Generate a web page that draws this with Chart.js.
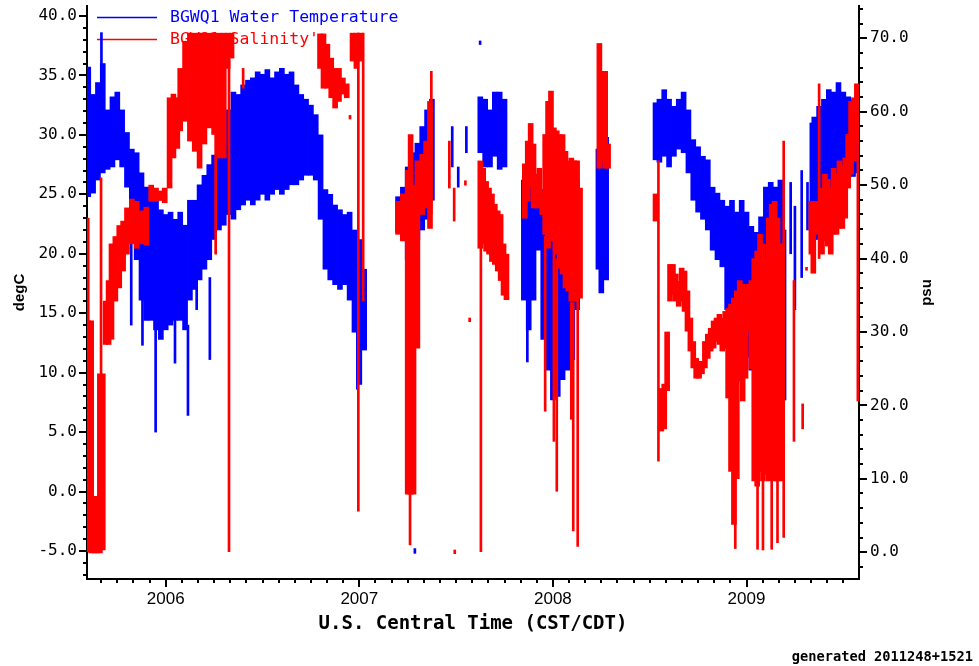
<!DOCTYPE html>
<html>
<head>
<meta charset="utf-8">
<script src="https://cdn.jsdelivr.net/npm/chart.js@4.4.1/dist/chart.umd.min.js"></script>
<style>
  body { margin: 0; background: #fff; }
  canvas { display: block; }
</style>
</head>
<body>
<canvas id="miCanva" width="979" height="666"></canvas>
<script>
// tick labels
const yearTicks = [2006, 2007, 2008, 2009];
const tempTicks = [-5, 0, 5, 10, 15, 20, 25, 30, 35, 40];
const salTicks = [0, 10, 20, 30, 40, 50, 60, 70];

// water temperature, degC: [decimal year, low, high] of the dense band
const tempBand = [
  [2005.600, 24.8, 35.7], [2005.625, 25.1, 33.4], [2005.650, 26.2, 34.4], [2005.675, 26.8, 36.0],
  [2005.700, 27.1, 32.1], [2005.725, 27.3, 33.2], [2005.750, 27.9, 33.6], [2005.775, 27.3, 32.1],
  [2005.800, 25.6, 30.2], [2005.825, 24.0, 28.8], [2005.850, 19.5, 28.5], [2005.875, 16.1, 26.8],
  [2005.900, 14.4, 25.6], [2005.925, 14.4, 24.8], [2005.950, 13.6, 24.5], [2005.975, 12.8, 23.7],
  [2006.000, 13.6, 23.3], [2006.025, 14.0, 23.5], [2006.050, 14.4, 22.9], [2006.075, 14.4, 23.5],
  [2006.100, 13.6, 22.4], [2006.125, 16.1, 24.5], [2006.150, 17.0, 24.5], [2006.175, 17.8, 25.8],
  [2006.200, 18.7, 26.6], [2006.225, 19.5, 27.5], [2006.250, 21.2, 28.3], [2006.275, 22.0, 29.6],
  [2006.300, 22.4, 31.3], [2006.325, 23.3, 32.1], [2006.350, 22.9, 33.6], [2006.375, 23.7, 33.4],
  [2006.400, 24.1, 34.2], [2006.425, 24.5, 34.6], [2006.450, 24.1, 34.8], [2006.475, 24.5, 35.3],
  [2006.500, 25.0, 35.1], [2006.525, 24.5, 35.5], [2006.550, 25.0, 34.8], [2006.575, 25.4, 35.3],
  [2006.600, 25.0, 35.6], [2006.625, 25.4, 35.1], [2006.650, 25.8, 35.3], [2006.675, 25.8, 34.2],
  [2006.700, 26.2, 33.4], [2006.725, 26.6, 33.0], [2006.750, 26.6, 32.5], [2006.775, 26.2, 31.7],
  [2006.800, 22.9, 30.0], [2006.825, 18.7, 25.4], [2006.850, 17.8, 25.0], [2006.875, 17.4, 24.1],
  [2006.900, 17.0, 23.7], [2006.925, 17.4, 23.3], [2006.950, 16.1, 23.5], [2006.975, 13.4, 22.0],
  [2007.000, 9.0, 21.2], [2007.025, 11.9, 18.7],
  [2007.200, 21.8, 24.8], [2007.225, 21.2, 25.6], [2007.250, 19.5, 27.3], [2007.275, 19.5, 28.5],
  [2007.300, 21.2, 29.3], [2007.325, 22.0, 30.7], [2007.350, 22.9, 32.1], [2007.375, 24.5, 33.0],
  [2007.625, 28.5, 33.2], [2007.650, 27.3, 33.0], [2007.675, 27.3, 32.1], [2007.700, 28.2, 33.6],
  [2007.725, 27.1, 33.6], [2007.750, 27.3, 33.0],
  [2007.850, 16.1, 26.2], [2007.875, 13.6, 26.2], [2007.900, 16.1, 25.8], [2007.925, 20.3, 24.5],
  [2007.950, 12.8, 25.4], [2007.975, 10.2, 24.5], [2008.000, 7.7, 25.0], [2008.025, 8.0, 24.5],
  [2008.050, 9.4, 22.9], [2008.075, 10.2, 23.7], [2008.100, 11.1, 25.0], [2008.125, 15.3, 26.2],
  [2008.235, 18.7, 28.8], [2008.250, 16.7, 29.6], [2008.275, 17.8, 29.8],
  [2008.530, 27.9, 32.7], [2008.550, 27.7, 33.0], [2008.575, 28.2, 33.8], [2008.600, 27.3, 33.0],
  [2008.625, 28.2, 32.4], [2008.650, 28.8, 33.0], [2008.675, 28.5, 33.6], [2008.700, 26.8, 32.1],
  [2008.725, 24.5, 29.6], [2008.750, 23.5, 29.0], [2008.775, 22.9, 28.2], [2008.800, 22.0, 27.9],
  [2008.825, 20.3, 25.6], [2008.850, 19.5, 25.1], [2008.875, 18.9, 24.5], [2008.900, 15.3, 24.0],
  [2008.925, 10.0, 24.5], [2008.950, 11.3, 23.5], [2008.975, 10.8, 24.5], [2009.000, 11.3, 23.5],
  [2009.025, 10.2, 22.3], [2009.050, 10.5, 21.8], [2009.075, 11.1, 23.1], [2009.100, 11.9, 25.6],
  [2009.125, 12.8, 26.0], [2009.150, 11.3, 25.6], [2009.175, 13.4, 26.2],
  [2009.340, 20.9, 31.0], [2009.350, 21.2, 31.5], [2009.375, 21.2, 32.4], [2009.400, 21.8, 33.0],
  [2009.425, 22.9, 33.8], [2009.450, 24.5, 33.6], [2009.475, 25.1, 34.4], [2009.500, 25.6, 33.6],
  [2009.525, 26.2, 33.2], [2009.550, 26.5, 33.0], [2009.575, 26.8, 32.7]
];

// single temperature readings far from the band
const tempSpikes = [
  [2005.668, 36.0, 38.6], [2005.822, 14.0, 24.0], [2005.880, 12.3, 20.0], [2005.948, 5.0, 16.0],
  [2006.048, 10.8, 16.0], [2006.115, 6.4, 14.0], [2006.160, 15.3, 20.0], [2006.228, 11.1, 18.0],
  [2006.990, 8.6, 16.0], [2007.270, 6.9, 19.0], [2007.287, -5.2, -4.8], [2007.480, 27.3, 30.7],
  [2007.511, 25.6, 27.3], [2007.553, 28.5, 30.7], [2007.624, 37.6, 37.9], [2007.868, 10.9, 16.0],
  [2009.199, 7.7, 22.0], [2009.228, 20.0, 26.0], [2009.250, 15.3, 24.0], [2009.285, 18.0, 27.0],
  [2009.315, 22.0, 26.0]
];

// salinity, psu: [decimal year, low, high]
const salBand = [
  [2005.600, 0.0, 31.5], [2005.615, -0.1, 31.5], [2005.630, -0.1, 7.6], [2005.645, -0.1, 7.6],
  [2005.660, -0.1, 24.3], [2005.675, 0.3, 24.3], [2005.690, 28.3, 34.2], [2005.705, 28.3, 37.0],
  [2005.720, 29.0, 42.0], [2005.740, 34.2, 43.0], [2005.760, 36.0, 44.5], [2005.780, 38.3, 45.1],
  [2005.800, 40.6, 46.9], [2005.825, 42.0, 48.1], [2005.850, 41.4, 47.8], [2005.875, 42.0, 46.5],
  [2005.900, 41.8, 47.0], [2005.925, 47.8, 50.0], [2005.950, 47.8, 49.6], [2005.975, 47.9, 49.2],
  [2005.995, 47.6, 49.6], [2006.020, 49.6, 61.9], [2006.040, 53.7, 62.4], [2006.060, 55.0, 61.9],
  [2006.075, 57.4, 65.9], [2006.100, 58.7, 69.6], [2006.125, 56.0, 70.7], [2006.150, 54.6, 70.7],
  [2006.175, 52.3, 70.7], [2006.200, 55.6, 70.7], [2006.225, 57.8, 70.7], [2006.250, 56.9, 70.7],
  [2006.275, 53.7, 70.7], [2006.300, 53.7, 70.7], [2006.320, 65.9, 70.7], [2006.340, 67.3, 70.7],
  [2006.797, 65.9, 70.6], [2006.815, 63.2, 70.6], [2006.835, 63.2, 69.2], [2006.855, 61.9, 67.3],
  [2006.875, 60.5, 65.9], [2006.895, 61.4, 65.9], [2006.915, 62.4, 64.6], [2006.935, 61.9, 63.8],
  [2006.965, 66.9, 70.7], [2006.985, 65.9, 70.7], [2007.005, 66.9, 70.7],
  [2007.200, 43.3, 47.8], [2007.225, 42.4, 48.8], [2007.250, 7.9, 52.0], [2007.265, 7.9, 56.9],
  [2007.280, 7.9, 50.0], [2007.300, 27.8, 53.3], [2007.325, 46.0, 54.2], [2007.345, 46.9, 56.0],
  [2007.365, 44.1, 61.4],
  [2007.625, 41.4, 53.3], [2007.640, 42.0, 52.3], [2007.655, 41.0, 50.5], [2007.670, 40.6, 49.6],
  [2007.685, 39.6, 48.8], [2007.700, 39.2, 47.4], [2007.715, 38.3, 46.5], [2007.730, 37.0, 46.0],
  [2007.745, 35.0, 42.0], [2007.760, 34.4, 40.6],
  [2007.855, 45.5, 52.9], [2007.870, 47.8, 56.0], [2007.885, 49.6, 58.4], [2007.900, 46.9, 55.6],
  [2007.915, 46.9, 51.5], [2007.930, 46.9, 52.3], [2007.945, 46.0, 49.2], [2007.960, 43.3, 56.9],
  [2007.975, 41.4, 61.4], [2007.990, 43.3, 62.8], [2008.005, 42.4, 57.8], [2008.020, 40.6, 57.4],
  [2008.035, 38.7, 56.9], [2008.050, 37.9, 56.9], [2008.065, 36.0, 54.6], [2008.080, 35.6, 53.3],
  [2008.095, 34.2, 53.7], [2008.110, 34.2, 53.3], [2008.125, 36.0, 53.3], [2008.140, 34.6, 49.6],
  [2008.240, 52.3, 69.3], [2008.255, 53.3, 65.5], [2008.270, 52.3, 65.5], [2008.285, 52.3, 55.6],
  [2008.530, 45.1, 48.8], [2008.560, 16.5, 22.3], [2008.575, 16.8, 22.9], [2008.590, 22.0, 30.0],
  [2008.605, 34.2, 39.2], [2008.620, 35.1, 39.2], [2008.635, 34.2, 37.9], [2008.650, 33.5, 36.9],
  [2008.665, 34.2, 38.7], [2008.680, 32.8, 38.3], [2008.695, 30.1, 35.6], [2008.710, 27.4, 31.9],
  [2008.725, 25.1, 28.7], [2008.740, 23.7, 26.4], [2008.755, 23.7, 26.0], [2008.770, 24.3, 26.0],
  [2008.785, 25.1, 28.7], [2008.800, 26.4, 29.7], [2008.815, 27.4, 30.5], [2008.830, 27.8, 31.5],
  [2008.845, 28.7, 31.9], [2008.860, 28.3, 32.4], [2008.875, 27.4, 31.9], [2008.890, 27.8, 32.8],
  [2008.905, 21.0, 33.2], [2008.920, 11.0, 33.8], [2008.935, 3.8, 34.6], [2008.950, 10.0, 35.6],
  [2008.965, 23.3, 37.0], [2008.980, 20.6, 36.5], [2008.995, 23.7, 36.0], [2009.010, 30.1, 36.5],
  [2009.025, 25.0, 37.0], [2009.040, 9.7, 40.0], [2009.055, 9.0, 41.0], [2009.070, 11.0, 43.3],
  [2009.085, 9.7, 42.0], [2009.100, 10.6, 40.0], [2009.115, 9.7, 45.5], [2009.130, 12.4, 47.4],
  [2009.145, 9.7, 47.8], [2009.160, 9.7, 45.5], [2009.175, 9.7, 42.0],
  [2009.335, 40.6, 47.8], [2009.345, 38.0, 47.8], [2009.360, 43.3, 47.8], [2009.390, 40.6, 49.6],
  [2009.405, 42.4, 51.5], [2009.420, 41.7, 50.8], [2009.435, 40.6, 49.6], [2009.450, 43.3, 52.3],
  [2009.465, 43.3, 51.5], [2009.480, 44.1, 53.3], [2009.495, 44.1, 52.6], [2009.510, 45.5, 53.7],
  [2009.525, 49.6, 56.9], [2009.540, 51.5, 61.4], [2009.555, 53.3, 61.9], [2009.570, 56.0, 63.8]
];

const salSpikes = [
  [2005.600, 31.5, 45.5], [2005.666, 0.3, 51.0], [2006.258, 40.6, 60.0], [2006.327, 0.0, 67.0],
  [2006.400, 63.2, 65.9], [2006.952, 59.0, 59.5], [2006.995, 5.6, 70.7], [2007.020, 34.2, 70.7],
  [2007.262, 1.0, 7.9], [2007.372, 46.0, 65.5], [2007.465, 49.6, 56.0], [2007.490, 45.1, 49.6],
  [2007.493, -0.2, 0.3], [2007.548, 50.0, 50.6], [2007.570, 31.4, 31.9], [2007.628, 0.0, 53.0],
  [2007.960, 19.2, 43.0], [2008.005, 15.1, 43.0], [2008.020, 8.3, 40.0], [2008.095, 18.1, 34.0],
  [2008.105, 2.9, 34.0], [2008.128, 0.8, 36.0], [2008.545, 12.4, 53.3], [2008.942, 0.5, 30.0],
  [2009.057, 0.4, 20.0], [2009.085, 0.3, 20.0], [2009.130, 0.4, 20.0], [2009.160, 1.3, 20.0],
  [2009.192, 2.0, 56.0], [2009.245, 15.1, 37.0], [2009.290, 16.8, 20.2], [2009.310, 38.4, 38.8],
  [2009.375, 40.0, 63.8], [2009.575, 20.6, 60.0]
];

const BLUE = '#0000ff';
const RED = '#ff0000';

const bars = (rows, label, color, axis, order, thick) => ({
  label: label,
  data: rows.map(r => ({ x: r[0], y: [r[1], r[2]] })),
  backgroundColor: color,
  borderWidth: 0,
  barThickness: thick,
  grouped: false,
  yAxisID: axis,
  order: order
});

const steps = (from, to, step) => {
  const out = [];
  for (let v = from; v <= to; v += step) out.push({ value: v });
  return out;
};

// monthly minor ticks, labelled at each new year
const monthTicks = (scale) => {
  const out = [];
  for (let y = 2005; y <= 2010; y++) {
    for (let m = 0; m < 12; m++) {
      const v = y + m / 12;
      if (v >= scale.min && v <= scale.max) out.push({ value: v });
    }
  }
  scale.ticks = out;
};

// keep the plot box fixed, no extra room for overhanging labels
const fixBox = (size) => (s) => {
  if (s.isHorizontal()) s.height = size; else s.width = size;
  s.paddingTop = 0;
  s.paddingBottom = 0;
  s.paddingLeft = 0;
  s.paddingRight = 0;
};

const tickMarks = {
  id: 'tickMarks',
  afterDraw(chart) {
    const ctx = chart.ctx;
    ctx.save();
    ctx.strokeStyle = '#000';
    ctx.lineWidth = 2;
    Object.values(chart.scales).forEach(scale => {
      scale.ticks.forEach(t => {
        const len = t.label !== '' ? 8 : 4;
        const p = Math.round(scale.getPixelForValue(t.value));
        ctx.beginPath();
        if (scale.axis === 'x') {
          ctx.moveTo(p, scale.top); ctx.lineTo(p, scale.top + len);
        } else if (scale.position === 'left') {
          ctx.moveTo(scale.right, p); ctx.lineTo(scale.right - len, p);
        } else {
          ctx.moveTo(scale.left, p); ctx.lineTo(scale.left + len, p);
        }
        ctx.stroke();
      });
    });
    ctx.restore();
  }
};

const legendBox = {
  id: 'legendBox',
  beforeDatasetsDraw(chart) {
    const { ctx, chartArea } = chart;
    ctx.save();
    ctx.font = '16.5px "DejaVu Sans Mono"';
    ctx.textBaseline = 'middle';
    ctx.lineWidth = 1.5;
    [chart.data.datasets[0], chart.data.datasets[2]].forEach((ds, i) => {
      const y = chartArea.top + 11.5 + i * 22;
      ctx.strokeStyle = ds.backgroundColor;
      ctx.beginPath();
      ctx.moveTo(chartArea.left + 10, y);
      ctx.lineTo(chartArea.left + 70, y);
      ctx.stroke();
      ctx.fillStyle = ds.backgroundColor;
      ctx.fillText(ds.label, chartArea.left + 83, y);
    });
    ctx.restore();
  }
};

const extraText = {
  id: 'extraText',
  afterDraw(chart) {
    const ctx = chart.ctx;
    const s = chart.scales.y1;
    ctx.save();
    ctx.fillStyle = '#000';
    ctx.font = 'bold 15px "Liberation Sans"';
    ctx.textAlign = 'center';
    ctx.textBaseline = 'middle';
    ctx.translate(s.right - 52, (s.top + s.bottom) / 2);
    ctx.rotate(-Math.PI / 2);
    ctx.fillText('psu', 0, 0);
    ctx.restore();

    ctx.save();
    ctx.fillStyle = '#000';
    ctx.font = 'bold 13.7px "DejaVu Sans Mono"';
    ctx.textAlign = 'right';
    ctx.textBaseline = 'middle';
    ctx.fillText('generated 2011248+1521', chart.width - 6, chart.height - 9);
    ctx.restore();
  }
};

Chart.defaults.font.family = '"DejaVu Sans Mono", monospace';
Chart.defaults.color = '#000';

const canva = document.getElementById('miCanva');
new Chart(canva, {
  type: 'bar',
  data: {
    datasets: [
      bars(tempBand, 'BGWQ1 Water Temperature', BLUE, 'y', 3, 5),
      bars(tempSpikes, 'BGWQ1 Water Temperature', BLUE, 'y', 2, 2),
      bars(salBand, "BGWQ1 Salinity'", RED, 'y1', 1, 5),
      bars(salSpikes, "BGWQ1 Salinity'", RED, 'y1', 0, 2)
    ]
  },
  options: {
    responsive: false,
    devicePixelRatio: 1,
    animation: false,
    layout: { padding: { top: 6, left: 0, right: 0, bottom: 0 } },
    plugins: {
      legend: { display: false },
      tooltip: { enabled: false }
    },
    scales: {
      x: {
        type: 'linear',
        min: 2005.5935,
        max: 2009.581,
        offset: false,
        afterBuildTicks: monthTicks,
        afterFit: fixBox(87),
        grid: { display: true, drawOnChartArea: false, drawTicks: false, offset: false },
        border: { display: true, color: '#000', width: 2 },
        ticks: {
          autoSkip: false,
          maxRotation: 0,
          minRotation: 0,
          padding: 10,
          color: '#000',
          font: { family: '"Liberation Sans"', size: 17 },
          callback: (v) => yearTicks.includes(v) ? String(v) : ''
        },
        title: {
          display: true,
          text: 'U.S. Central Time (CST/CDT)',
          color: '#000',
          font: { family: '"DejaVu Sans Mono"', size: 19, weight: 'bold' },
          padding: { top: 0, bottom: 31 }
        }
      },
      y: {
        type: 'linear',
        position: 'left',
        min: -7.357,
        max: 40.84,
        afterBuildTicks: (s) => { s.ticks = steps(-7, 40, 1); },
        afterFit: fixBox(87),
        grid: { display: true, drawOnChartArea: false, drawTicks: false },
        border: { display: true, color: '#000', width: 2 },
        ticks: {
          autoSkip: false,
          padding: 10,
          color: '#000',
          font: { size: 16 },
          callback: (v) => tempTicks.includes(v) ? v.toFixed(1) : ''
        },
        title: {
          display: true,
          text: 'degC',
          color: '#000',
          font: { family: '"Liberation Sans"', size: 15, weight: 'bold' },
          padding: { top: 11, bottom: 0 }
        }
      },
      y1: {
        type: 'linear',
        position: 'right',
        min: -3.65,
        max: 74.4,
        afterBuildTicks: (s) => { s.ticks = steps(-2, 74, 2); },
        afterFit: fixBox(120),
        grid: { display: true, drawOnChartArea: false, drawTicks: false },
        border: { display: true, color: '#000', width: 2 },
        ticks: {
          autoSkip: false,
          padding: 11,
          color: '#000',
          font: { size: 16 },
          callback: (v) => salTicks.includes(v) ? v.toFixed(1) : ''
        }
      }
    }
  },
  plugins: [legendBox, tickMarks, extraText]
});
</script>
</body>
</html>
